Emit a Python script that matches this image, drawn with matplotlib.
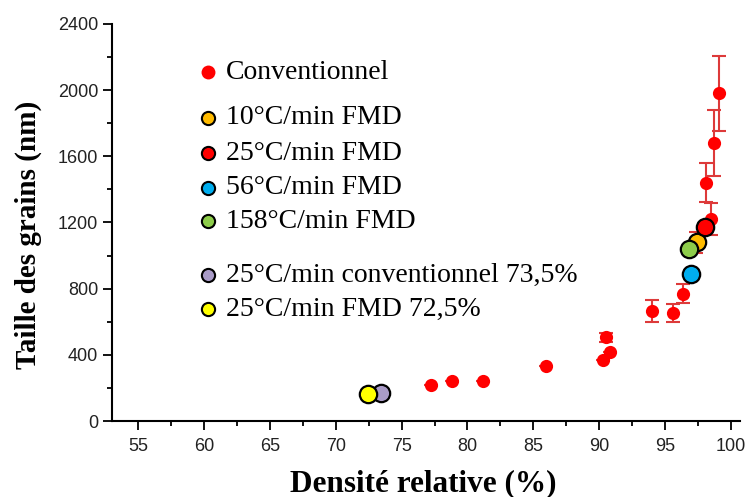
import matplotlib.pyplot as plt
from matplotlib.ticker import MultipleLocator

plt.rcParams['font.family'] = 'Liberation Sans'

# conventional sintering (red dots), grain size vs relative density
conv_density = [77.2, 78.8, 81.2, 86.0, 90.3, 90.5, 90.8, 94.0, 95.6, 96.35, 97.35, 98.5, 98.15, 98.7, 99.1]
conv_size = [220, 240, 240, 330, 370, 505, 415, 665, 655, 770, 1080, 1222, 1441, 1680, 1980]
conv_err = [0, 0, 0, 0, 0, 25, 0, 65, 55, 57, 65, 95, 118, 200, 226]

# FMD / other runs: (label, density, size, colour)
fmd_labels = ["10°C/min FMD", "25°C/min FMD", "56°C/min FMD", "158°C/min FMD",
              "25°C/min conventionnel 73,5%", "25°C/min FMD 72,5%"]
fmd_density = [97.45, 98.05, 96.95, 96.8, 73.4, 72.45]
fmd_size = [1082, 1172, 888, 1040, 168, 166]
fmd_colors = ["#ffbb00", "#ff0000", "#00aeef", "#8dcc4a", "#a99bc7", "#ffff00"]

W, H = 746, 497


def main():
    fig = plt.figure(figsize=(W / 100, H / 100), dpi=100)
    ax = fig.add_axes([112 / W, 1 - 421 / H, 628 / W, 397 / H])

    ax.errorbar(conv_density, conv_size, yerr=conv_err, fmt='none', ecolor='#dd3a3a',
                elinewidth=1.5, capsize=5, capthick=1.5, zorder=2)
    ax.plot(conv_density, conv_size, 'o', color='#ff0000', ms=9.5, mew=0, zorder=3)
    for d, s, c in zip(fmd_density, fmd_size, fmd_colors):
        ax.plot(d, s, 'o', color=c, ms=12.5, mec='black', mew=1.6, zorder=4)

    ax.set_xlim(53, 100.7)
    ax.set_ylim(0, 2400)
    ax.xaxis.set_major_locator(MultipleLocator(5))
    ax.xaxis.set_minor_locator(MultipleLocator(2.5))
    ax.yaxis.set_major_locator(MultipleLocator(400))
    ax.yaxis.set_minor_locator(MultipleLocator(200))
    ax.set_xticks(range(55, 101, 5))
    ax.spines['top'].set_visible(False)
    ax.spines['right'].set_visible(False)
    for sp in ('left', 'bottom'):
        ax.spines[sp].set_linewidth(1.5)
    ax.tick_params(which='major', direction='out', length=6.5, width=1.3, labelsize=13,
                   labelcolor='#222222')
    ax.tick_params(axis='x', which='major', pad=5.5)
    ax.tick_params(axis='y', which='major', pad=3.5)
    ax.tick_params(which='minor', direction='out', length=3.6, width=1.3)

    serif = 'Liberation Serif'
    fig.text(28 / W, 1 - 235 / H, "Taille des grains (nm)", rotation=90, ha='center', va='center',
             family=serif, fontweight='bold', fontsize=21)
    fig.text(423 / W, 1 - 484 / H, "Densité relative (%)", ha='center', va='center',
             family=serif, fontweight='bold', fontsize=22.5)

    # hand-placed legend
    ax.plot(208 / W, 1 - 72 / H, 'o', color='#ff0000', ms=10, mew=0,
            transform=fig.transFigure, clip_on=False)
    fig.text(226 / W, 1 - 72 / H, "Conventionnel", va='center', family=serif, fontsize=20)
    rows = [118, 153, 188, 221, 275, 309]
    for lab, c, yp in zip(fmd_labels, fmd_colors, rows):
        ax.plot(208 / W, 1 - yp / H, 'o', color=c, ms=9.5, mec='black', mew=1.5,
                transform=fig.transFigure, clip_on=False)
        fig.text(226 / W, 1 - yp / H, lab, va='center', family=serif, fontsize=20)

    fig.savefig("out.png", dpi=100)


if __name__ == '__main__':
    main()
